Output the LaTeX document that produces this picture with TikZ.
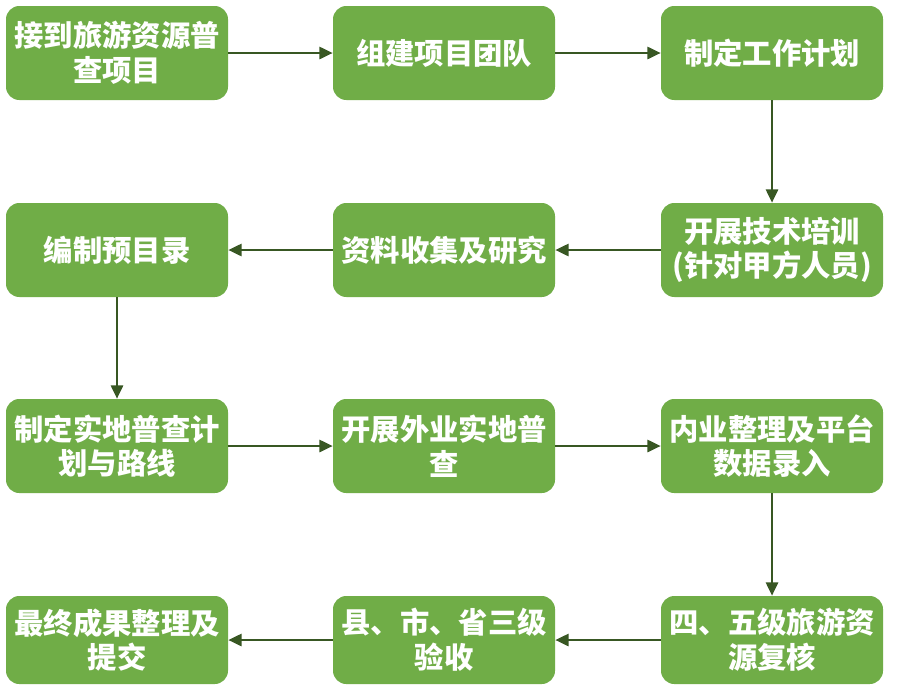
\documentclass[tikz,border=0pt]{standalone}
\usepackage{fontspec}
\newfontfamily\cjk{Noto Sans CJK SC}
\usetikzlibrary{arrows.meta, positioning}
\definecolor{boxgreen}{HTML}{70AD47}
\definecolor{arrowgreen}{HTML}{385723}

\begin{document}
\begin{tikzpicture}[x=0.75pt, y=-0.75pt,
    box/.style={fill=boxgreen, rounded corners=10pt, minimum width=166.5pt, minimum height=70.5pt, align=center, text=white, font=\cjk\bfseries\fontsize{22}{26}\selectfont},
    arrow/.style={-{Triangle[length=10pt, width=9pt]}, line width=2pt, draw=arrowgreen, fill=arrowgreen}
]
    \useasboundingbox[fill=white] (0,0) rectangle (898,686);

    % Row 1
    \node[box] (accept) at (117,53) {接到旅游资源普\\查项目};
    \node[box] (team) at (444,53) {组建项目团队};
    \node[box] (plan) at (772,53) {制定工作计划};

    % Row 2
    \node[box] (training) at (772,250) {开展技术培训\\(针对甲方人员)};
    \node[box] (research) at (444,250) {资料收集及研究};
    \node[box] (catalog) at (117,250) {编制预目录};

    % Row 3
    \node[box] (route) at (117,446) {制定实地普查计\\划与路线};
    \node[box] (field) at (444,446) {开展外业实地普\\查};
    \node[box] (entry) at (772,446) {内业整理及平台\\数据录入};

    % Row 4
    \node[box, minimum height=66pt] (review) at (772,640) {四、五级旅游资\\源复核};
    \node[box, minimum height=66pt] (check) at (444,640) {县、市、省三级\\验收};
    \node[box, minimum height=66pt] (submit) at (117,640) {最终成果整理及\\提交};

    % Flow
    \draw[arrow] (accept) -- (team);
    \draw[arrow] (team) -- (plan);
    \draw[arrow] (plan) -- (training);
    \draw[arrow] (training) -- (research);
    \draw[arrow] (research) -- (catalog);
    \draw[arrow] (catalog) -- (route);
    \draw[arrow] (route) -- (field);
    \draw[arrow] (field) -- (entry);
    \draw[arrow] (entry) -- (review);
    \draw[arrow] (review) -- (check);
    \draw[arrow] (check) -- (submit);
\end{tikzpicture}
\end{document}
